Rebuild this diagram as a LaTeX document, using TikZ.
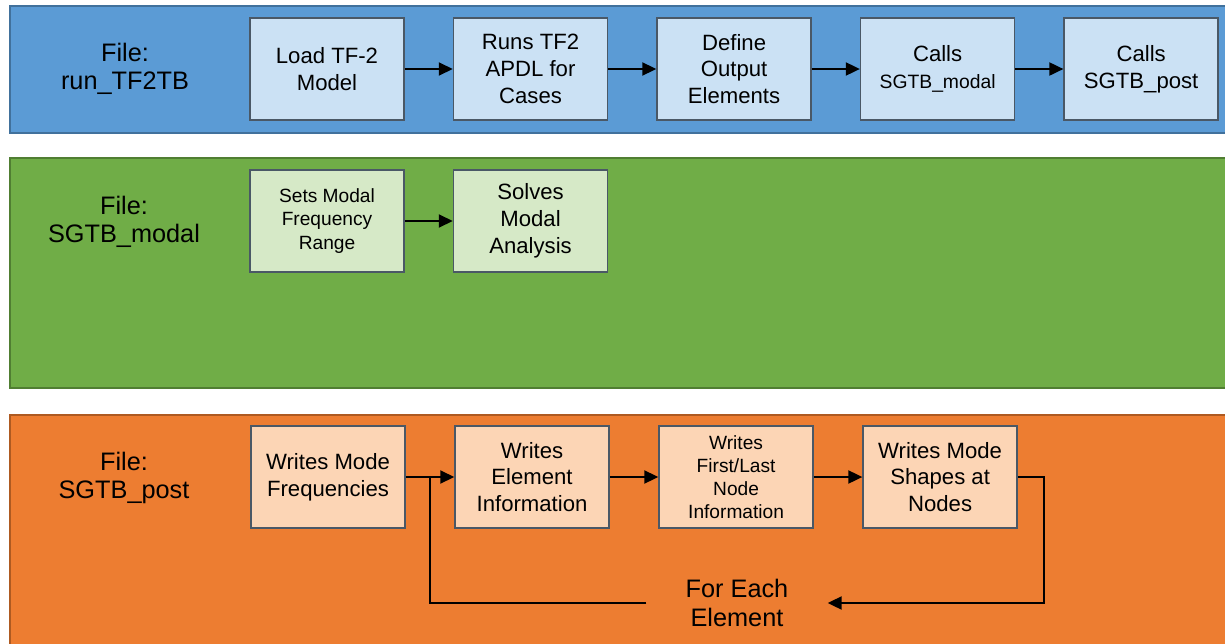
\documentclass[tikz,border=0pt]{standalone}
\usepackage{fontspec}
\setmainfont{Liberation Sans}
\usetikzlibrary{positioning,arrows.meta}

\definecolor{bandblue}{HTML}{5B9BD5}
\definecolor{bandblueline}{HTML}{41719C}
\definecolor{bandgreen}{HTML}{70AD47}
\definecolor{bandgreenline}{HTML}{507E32}
\definecolor{bandorange}{HTML}{ED7D31}
\definecolor{bandorangeline}{HTML}{AE5A21}
\definecolor{boxblue}{HTML}{CBE1F4}
\definecolor{boxgreen}{HTML}{D6E9C7}
\definecolor{boxorange}{HTML}{FCD5B5}
\definecolor{boxline}{HTML}{4A5866}

\begin{document}
\begin{tikzpicture}[x=0.02cm,y=-0.02cm,>={Triangle[length=2.8mm,width=2.6mm]},node distance=0.96cm,
  band/.style={line width=0.6pt},
  box/.style={draw=boxline,line width=0.9pt,minimum width=3.08cm,minimum height=2.04cm,
    align=center,inner sep=1pt,font=\fontsize{12.6}{15.3}\selectfont},
  smallbox/.style={box,font=\fontsize{10.9}{13.2}\selectfont},
  filelabel/.style={align=center,font=\fontsize{14.4}{16.2}\selectfont},
  link/.style={->,line width=1.1pt},
  loop/.style={line width=1.1pt}]

\useasboundingbox (0,0) rectangle (1225,643);

\draw[band,fill=bandblue,draw=bandblueline] (10,6) rectangle (1232,133);
\draw[band,fill=bandgreen,draw=bandgreenline] (10,158) rectangle (1232,388);
\draw[band,fill=bandorange,draw=bandorangeline] (10,415) rectangle (1232,650);

\node[filelabel] (runfile) at (125,69) {File:\\run\_TF2TB};
\node[box,fill=boxblue] (load) at (327,69) {Load TF-2\\Model};
\node[box,fill=boxblue,right=of load] (runs) {Runs TF2\\APDL for\\Cases};
\node[box,fill=boxblue,right=of runs] (define) {Define\\Output\\Elements};
\node[box,fill=boxblue,right=of define] (callmodal) {Calls\\{\fontsize{11}{13}\selectfont SGTB\_modal}};
\node[box,fill=boxblue,right=of callmodal] (callpost) {Calls\\SGTB\_post};

\node[filelabel] (modalfile) at (124,222) {File:\\SGTB\_modal};
\node[smallbox,fill=boxgreen] (range) at (327,221) {Sets Modal\\Frequency\\Range};
\node[box,fill=boxgreen,right=of range] (solve) {Solves\\Modal\\Analysis};

\node[filelabel] (postfile) at (124,478) {File:\\SGTB\_post};
\node[box,fill=boxorange] (freq) at (328,477) {Writes Mode\\Frequencies};
\node[box,fill=boxorange,right=0.97cm of freq] (elem) {Writes\\Element\\Information};
\node[smallbox,fill=boxorange,right=0.97cm of elem] (firstlast) {Writes\\First/Last\\Node\\Information};
\node[box,fill=boxorange,right=0.97cm of firstlast] (shapes) {Writes Mode\\Shapes at\\Nodes};
\node[filelabel,inner xsep=0.78cm] (each) at (737,603) {For Each\\Element};

\draw[link] (load) -- (runs);
\draw[link] (runs) -- (define);
\draw[link] (define) -- (callmodal);
\draw[link] (callmodal) -- (callpost);

\draw[link] (range) -- (solve);

\draw[link] (freq) -- coordinate[midway] (join) (elem);
\draw[link] (elem) -- (firstlast);
\draw[link] (firstlast) -- (shapes);
\draw[link] (shapes.east) -- ++(26,0) |- (each.east);
\draw[loop] (each.west) -| (join);

\end{tikzpicture}
\end{document}
